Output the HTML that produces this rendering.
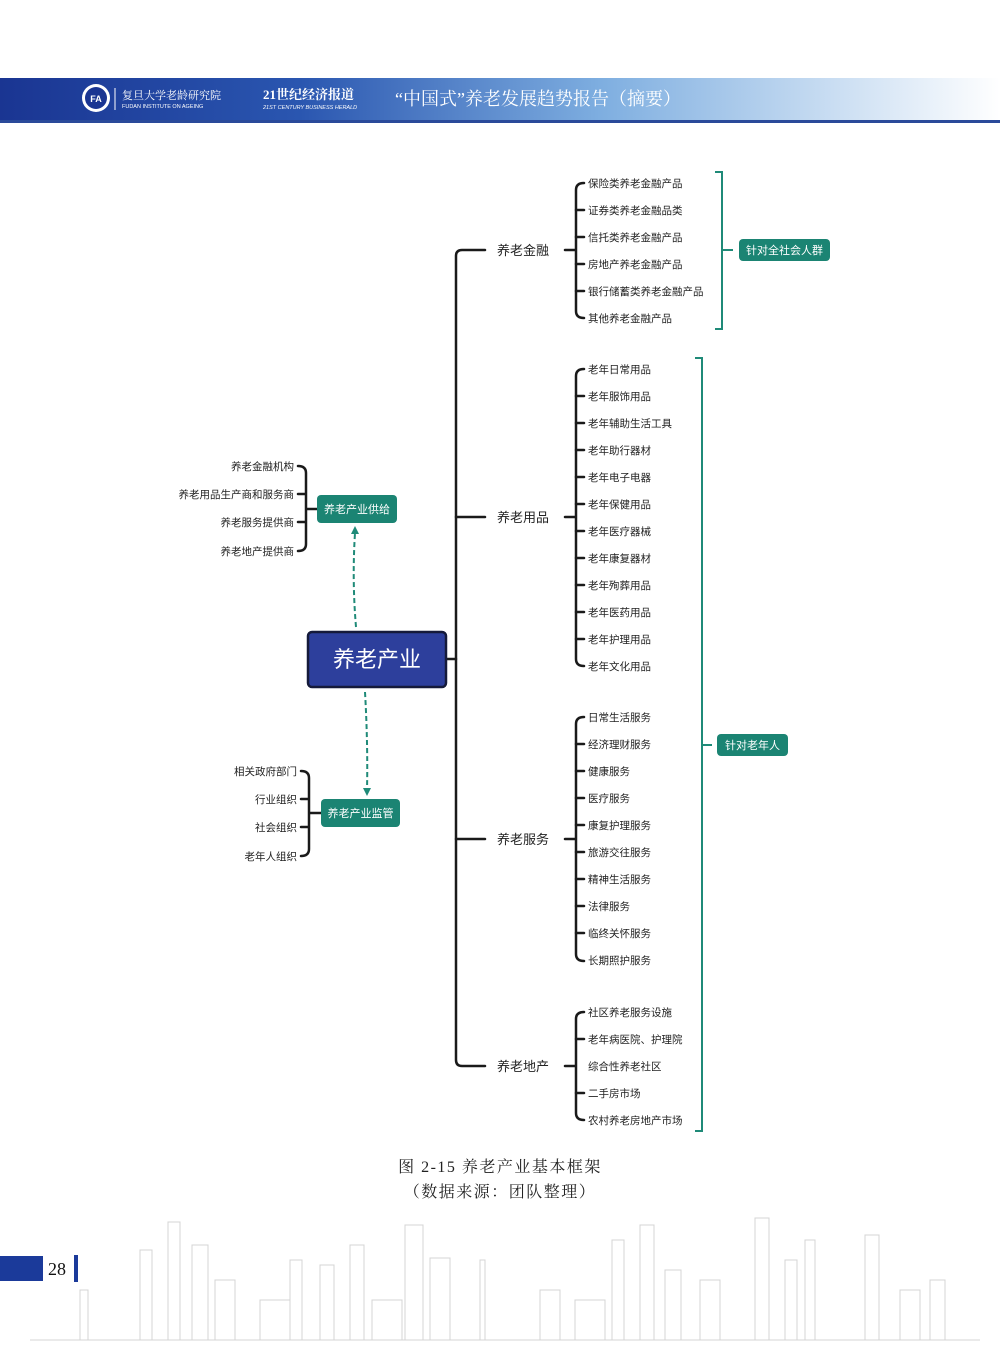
<!DOCTYPE html>
<html><head><meta charset="utf-8"><style>
html,body{margin:0;padding:0;background:#fff}
body{width:1000px;height:1356px;position:relative;overflow:hidden;font-family:"Liberation Sans","Noto Sans CJK SC",sans-serif}
</style></head><body>
<svg width="1000" height="1356" viewBox="0 0 1000 1356" xmlns="http://www.w3.org/2000/svg" style="position:absolute;left:0;top:0">
<defs>
<linearGradient id="hg" x1="0" x2="1" y1="0" y2="0">
<stop offset="0" stop-color="#1a3592"/><stop offset="0.3" stop-color="#2a56b0"/><stop offset="0.6" stop-color="#7eaee0"/><stop offset="1" stop-color="#ffffff"/>
</linearGradient>
</defs>
<rect x="0" y="78" width="1000" height="43" fill="url(#hg)"/>
<rect x="0" y="120" width="1000" height="3" fill="#2a4a9a"/>
<circle cx="96" cy="98" r="14" fill="#fff"/><circle cx="96" cy="98" r="11" fill="#1a3592"/>
<text x="96" y="102" font-size="9" fill="#fff" text-anchor="middle" font-weight="bold">FA</text>
<line x1="115" y1="88" x2="115" y2="110" stroke="#fff" stroke-width="1"/>
<text x="122" y="99" font-size="11" fill="#fff" font-family="Liberation Serif,Noto Serif CJK SC,serif">复旦大学老龄研究院</text>
<text x="122" y="108" font-size="5.5" fill="#fff">FUDAN INSTITUTE ON AGEING</text>
<text x="263" y="99" font-size="13" fill="#fff" font-weight="bold" font-family="Liberation Serif,Noto Serif CJK SC,serif">21世纪经济报道</text>
<text x="263" y="109" font-size="5.5" fill="#fff" font-style="italic">21ST CENTURY BUSINESS HERALD</text>
<text x="395" y="105" font-size="18" fill="#fff" font-family="Liberation Serif,Noto Serif CJK SC,serif">“中国式”养老发展趋势报告（摘要）</text>

<g fill="none" stroke="#1a1a1a" stroke-width="2.5" stroke-linecap="round">
<path d="M446 659 H456"/>
<path d="M485 250 H462 Q456 250 456 256 V1060 Q456 1066 462 1066 H485"/>
<path d="M456 517 H485 M456 839 H485"/>
<path d="M565 250 H576 M584 183 Q576 183 576 190 V311 Q576 318 584 318"/>
<path d="M576 210 H584 M576 237 H584 M576 264 H584 M576 291 H584"/>
<path d="M565 517 H576 M584 369 Q576 369 576 376 V659 Q576 666 584 666"/>
<path d="M576 396 H584 M576 423 H584 M576 450 H584 M576 477 H584 M576 504 H584 M576 531 H584 M576 558 H584 M576 585 H584 M576 612 H584 M576 639 H584"/>
<path d="M565 839 H576 M584 717 Q576 717 576 724 V954 Q576 961 584 961"/>
<path d="M576 744 H584 M576 771 H584 M576 798 H584 M576 825 H584 M576 852 H584 M576 879 H584 M576 906 H584 M576 933 H584"/>
<path d="M565 1066 H576 M584 1012 Q576 1012 576 1019 V1113 Q576 1120 584 1120"/>
<path d="M576 1039 H584 M576 1093 H584"/>
<path d="M298 466 Q306 466 306 473 V544 Q306 551 298 551 M298 494 H306 M298 522 H306 M306 509 H317"/>
<path d="M301 771 Q309 771 309 778 V849 Q309 856 301 856 M301 799 H309 M301 827 H309 M309 813 H321"/>
</g>
<g fill="none" stroke="#1f8a78" stroke-width="2">
<path d="M715 172 H722 V329 H715 M722 250 H733"/>
<path d="M695 358 H702 V1131 H695 M702 745 H712"/>
</g>
<g stroke="#1f8a78" stroke-width="2" stroke-dasharray="5,3" fill="none">
<path d="M356 627 Q352 580 355 533"/>
<path d="M365 692 Q368 745 367 790"/>
</g>
<polygon points="355,526 351,534 359,534" fill="#1f8a78"/>
<polygon points="367,796 363,788 371,788" fill="#1f8a78"/>

<rect x="308" y="632" width="138" height="55" rx="4" fill="#2d3f9c" stroke="#151a3a" stroke-width="2.5"/>
<text x="377" y="667" font-size="22" fill="#fff" text-anchor="middle">养老产业</text>

<g fill="#1b8473">
<rect x="739" y="239" width="91" height="22" rx="4"/>
<rect x="717" y="734" width="71" height="22" rx="4"/>
<rect x="317" y="495" width="80" height="28" rx="4"/>
<rect x="321" y="799" width="79" height="28" rx="4"/>
</g>
<g fill="#fff" font-size="11" text-anchor="middle">
<text x="784.5" y="254">针对全社会人群</text>
<text x="752.5" y="749">针对老年人</text>
<text x="357" y="513">养老产业供给</text>
<text x="360.5" y="817">养老产业监管</text>
</g>

<g font-size="13" fill="#222">
<text x="497" y="255">养老金融</text>
<text x="497" y="522">养老用品</text>
<text x="497" y="844">养老服务</text>
<text x="497" y="1071">养老地产</text>
</g>

<g font-size="10.5" fill="#222">
<text x="588" y="187">保险类养老金融产品</text>
<text x="588" y="214">证券类养老金融品类</text>
<text x="588" y="241">信托类养老金融产品</text>
<text x="588" y="268">房地产养老金融产品</text>
<text x="588" y="295">银行储蓄类养老金融产品</text>
<text x="588" y="322">其他养老金融产品</text>
<text x="588" y="373">老年日常用品</text>
<text x="588" y="400">老年服饰用品</text>
<text x="588" y="427">老年辅助生活工具</text>
<text x="588" y="454">老年助行器材</text>
<text x="588" y="481">老年电子电器</text>
<text x="588" y="508">老年保健用品</text>
<text x="588" y="535">老年医疗器械</text>
<text x="588" y="562">老年康复器材</text>
<text x="588" y="589">老年殉葬用品</text>
<text x="588" y="616">老年医药用品</text>
<text x="588" y="643">老年护理用品</text>
<text x="588" y="670">老年文化用品</text>
<text x="588" y="721">日常生活服务</text>
<text x="588" y="748">经济理财服务</text>
<text x="588" y="775">健康服务</text>
<text x="588" y="802">医疗服务</text>
<text x="588" y="829">康复护理服务</text>
<text x="588" y="856">旅游交往服务</text>
<text x="588" y="883">精神生活服务</text>
<text x="588" y="910">法律服务</text>
<text x="588" y="937">临终关怀服务</text>
<text x="588" y="964">长期照护服务</text>
<text x="588" y="1016">社区养老服务设施</text>
<text x="588" y="1043">老年病医院、护理院</text>
<text x="588" y="1070">综合性养老社区</text>
<text x="588" y="1097">二手房市场</text>
<text x="588" y="1124">农村养老房地产市场</text>
</g>
<g font-size="10.5" fill="#222" text-anchor="end">
<text x="294" y="470">养老金融机构</text>
<text x="294" y="498">养老用品生产商和服务商</text>
<text x="294" y="526">养老服务提供商</text>
<text x="294" y="555">养老地产提供商</text>
<text x="297" y="775">相关政府部门</text>
<text x="297" y="803">行业组织</text>
<text x="297" y="831">社会组织</text>
<text x="297" y="860">老年人组织</text>
</g>

<g font-family="Liberation Serif,Noto Serif CJK SC,serif" font-size="16" fill="#222" text-anchor="middle" letter-spacing="1.5">
<text x="500" y="1172">图 2-15 养老产业基本框架</text>
<text x="500" y="1197">（数据来源：团队整理）</text>
</g>

<g fill="none" stroke="#d4d4d4" stroke-width="1">
<path d="M30 1340 H980"/>
<rect x="80" y="1290" width="8" height="50"/><rect x="140" y="1250" width="12" height="90"/><rect x="168" y="1222" width="12" height="118"/>
<rect x="192" y="1245" width="16" height="95"/><rect x="215" y="1280" width="20" height="60"/><rect x="260" y="1300" width="30" height="40"/>
<rect x="290" y="1260" width="12" height="80"/><rect x="320" y="1265" width="14" height="75"/><rect x="350" y="1245" width="14" height="95"/>
<rect x="372" y="1300" width="30" height="40"/><rect x="405" y="1225" width="18" height="115"/><rect x="430" y="1258" width="20" height="82"/>
<rect x="480" y="1260" width="5" height="80"/><rect x="540" y="1290" width="20" height="50"/><rect x="575" y="1300" width="30" height="40"/>
<rect x="612" y="1240" width="12" height="100"/><rect x="640" y="1225" width="14" height="115"/><rect x="665" y="1270" width="16" height="70"/>
<rect x="700" y="1280" width="20" height="60"/><rect x="755" y="1218" width="14" height="122"/><rect x="785" y="1260" width="12" height="80"/>
<rect x="805" y="1240" width="10" height="100"/><rect x="865" y="1235" width="14" height="105"/><rect x="900" y="1290" width="20" height="50"/>
<rect x="930" y="1280" width="15" height="60"/>
</g>
<rect x="0" y="1256" width="43" height="25" fill="#1b3a9a"/>
<text x="48" y="1275" font-family="Liberation Serif,serif" font-size="18" fill="#111">28</text>
<rect x="74" y="1255" width="4" height="27" fill="#1b3a9a"/>
</svg>
</body></html>
